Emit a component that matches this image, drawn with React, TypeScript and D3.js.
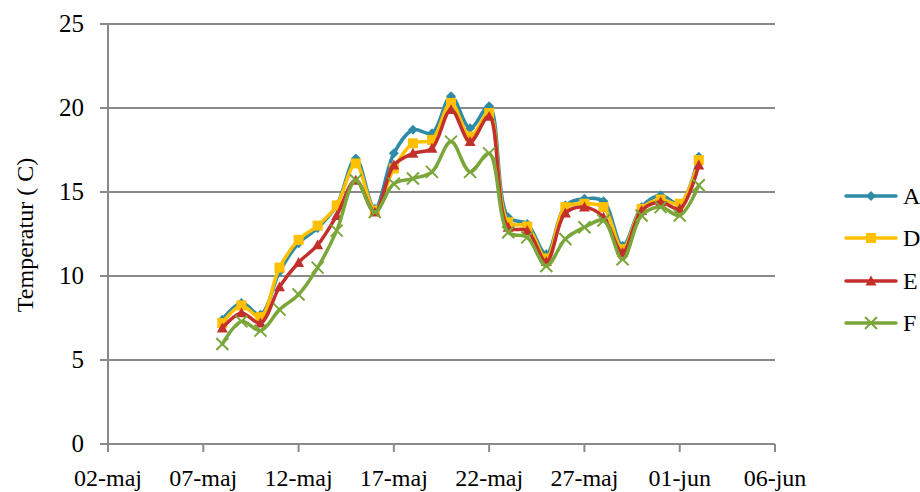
import React from "react";
import * as d3 from "d3";

const dayLabels = ["08-maj","09-maj","10-maj","11-maj","12-maj","13-maj","14-maj","15-maj","16-maj","17-maj","18-maj","19-maj","20-maj","21-maj","22-maj","23-maj","24-maj","25-maj","26-maj","27-maj","28-maj","29-maj","30-maj","31-maj","01-jun","02-jun"];
const seriesA = [7.4, 8.4, 7.7, 10.25, 11.95, 12.85, 14.2, 17.0, 14.0, 17.3, 18.7, 18.5, 20.7, 18.8, 20.1, 13.5, 13.1, 11.3, 14.2, 14.6, 14.45, 11.8, 14.1, 14.8, 14.3, 17.1];
const seriesD = [7.2, 8.25, 7.55, 10.5, 12.15, 13.0, 14.2, 16.7, 13.9, 16.4, 17.9, 18.1, 20.3, 18.3, 19.7, 13.2, 12.95, 11.05, 14.1, 14.3, 14.1, 11.6, 14.0, 14.55, 14.3, 16.9];
const seriesE = [6.9, 7.8, 7.2, 9.35, 10.8, 11.85, 13.6, 15.7, 13.8, 16.6, 17.3, 17.6, 19.9, 18.0, 19.5, 12.9, 12.7, 10.85, 13.75, 14.1, 13.5, 11.4, 13.9, 14.4, 14.0, 16.6];
const seriesF = [5.95, 7.3, 6.75, 8.0, 8.9, 10.5, 12.7, 15.7, 13.8, 15.5, 15.8, 16.2, 18.0, 16.2, 17.3, 12.6, 12.3, 10.6, 12.2, 12.9, 13.3, 11.0, 13.6, 14.1, 13.6, 15.4];
const seriesNames = ["A", "D", "E", "F"];
const xTickLabels = ["02-maj","07-maj","12-maj","17-maj","22-maj","27-maj","01-jun","06-jun"];
const yTicks = [0, 5, 10, 15, 20, 25];
const yTitle = "Temperatur ( C)";

const parseDay = (s: string) => {
  const [d, m] = s.split("-");
  return new Date(Date.UTC(2012, m === "maj" ? 4 : 5, +d));
};

const colors: Record<string, string> = { A: "#2F8BA6", D: "#FFC000", E: "#C3302C", F: "#7AA63A" };

function Marker({ name, x, y }: { name: string; x: number; y: number }) {
  const c = colors[name];
  if (name === "A") {
    const s = 5;
    return <path d={`M${x},${y - s}L${x + s},${y}L${x},${y + s}L${x - s},${y}Z`} fill={c} />;
  }
  if (name === "D") {
    const s = 5;
    return <rect x={x - s} y={y - s} width={2 * s} height={2 * s} fill={c} />;
  }
  if (name === "E") {
    const s = 5.5;
    return <path d={`M${x},${y - s}L${x + s},${y + s * 0.8}L${x - s},${y + s * 0.8}Z`} fill={c} />;
  }
  const s = 6;
  return (
    <path d={`M${x - s},${y - s}L${x + s},${y + s}M${x - s},${y + s}L${x + s},${y - s}`} stroke={c} strokeWidth={2} fill="none" />
  );
}

const font = '"Liberation Serif", "Times New Roman", Times, serif';
const textStyle = { fontFamily: font } as React.CSSProperties;

export default function App() {
  const width = 920, height = 492;
  const left = 108, right = 775, top = 24, bottom = 444;
  const x = d3.scaleUtc().domain([parseDay("02-maj"), parseDay("06-jun")]).range([left, right]);
  const y = d3.scaleLinear().domain([0, 25]).range([bottom, top]);
  const dates = dayLabels.map(parseDay);
  const all: Record<string, number[]> = { A: seriesA, D: seriesD, E: seriesE, F: seriesF };
  const line = d3.line<[Date, number]>().x(d => x(d[0])).y(d => y(d[1])).curve(d3.curveCatmullRom.alpha(0.5));
  const grid = "#8A8A8A";
  const legendY = [196, 238, 281, 323];

  return (
    <svg width={width} height={height} style={{ position: "absolute", left: 0, top: 0, background: "#fff", fontFamily: font }}>
      {yTicks.map(t => (
        <g key={t}>
          {t > 0 && <line x1={left} x2={right} y1={y(t)} y2={y(t)} stroke={grid} strokeWidth={2} />}
          <line x1={left - 8} x2={left} y1={y(t)} y2={y(t)} stroke={grid} strokeWidth={2} />
          <text x={84} y={y(t) + 8} textAnchor="end" fontSize={25} fill="#000" style={textStyle}>{t}</text>
        </g>
      ))}
      <line x1={left} x2={left} y1={top} y2={bottom} stroke={grid} strokeWidth={2} />
      <line x1={left} x2={right} y1={bottom} y2={bottom} stroke={grid} strokeWidth={2} />
      {xTickLabels.map(l => {
        const xx = x(parseDay(l));
        return (
          <g key={l}>
            <line x1={xx} x2={xx} y1={bottom} y2={bottom + 8} stroke={grid} strokeWidth={2} />
            <text x={xx} y={486} textAnchor="middle" fontSize={24} fill="#000" style={textStyle}>{l}</text>
          </g>
        );
      })}
      <text transform={`translate(33,${(top + bottom) / 2 + 1}) rotate(-90)`} textAnchor="middle" fontSize={24} fill="#000" style={textStyle}>{yTitle}</text>
      {seriesNames.map(n => {
        const pts = dates.map((d, i) => [d, all[n][i]] as [Date, number]);
        return (
          <g key={n}>
            <path d={line(pts) || ""} fill="none" stroke={colors[n]} strokeWidth={3.5} strokeLinejoin="round" strokeLinecap="round" />
            {pts.map((p, i) => <Marker key={i} name={n} x={x(p[0])} y={y(p[1])} />)}
          </g>
        );
      })}
      {seriesNames.map((n, i) => (
        <g key={n}>
          <line x1={846} x2={896} y1={legendY[i]} y2={legendY[i]} stroke={colors[n]} strokeWidth={3.5} strokeLinecap="round" />
          <Marker name={n} x={871} y={legendY[i]} />
          <text x={903} y={legendY[i] + 8} fontSize={24} fill="#000" style={textStyle}>{n}</text>
        </g>
      ))}
    </svg>
  );
}
